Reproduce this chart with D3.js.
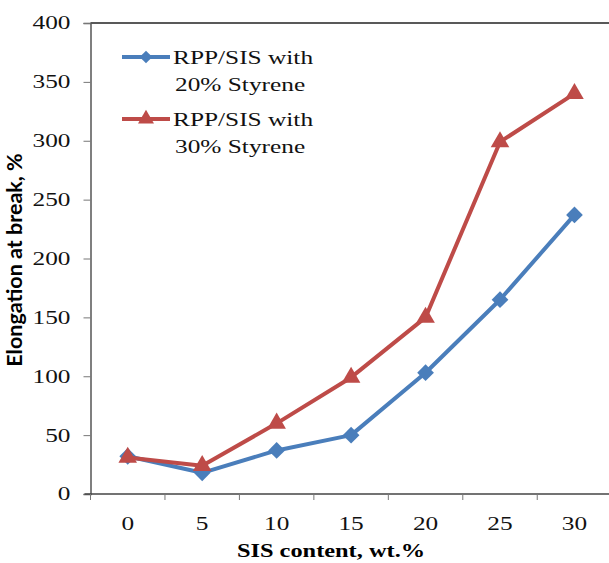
<!DOCTYPE html>
<html lang="en">
<head>
  <meta charset="UTF-8">
  <title>Elongation at break</title>
  <style>
    body { margin: 0; background: #fff; }
  </style>
</head>
<body>
  <svg id="chart" width="609" height="563"></svg>

  <script src="https://d3js.org/d3.v7.min.js"></script>
  <script>
    // SIS content categories (wt.%)
    const categories = ['0', '5', '10', '15', '20', '25', '30']
    // Elongation at break, %
    const styrene20 = [32, 18, 37, 50, 103, 165, 237]
    const styrene30 = [31, 24, 60, 99, 150, 299, 340]
    const yTicks = [0, 50, 100, 150, 200, 250, 300, 350, 400]
    const seriesNames = [['RPP/SIS with', '20% Styrene'], ['RPP/SIS with', '30% Styrene']]

    const blue = '#4a7ebb'
    const red = '#be4b48'
    const serif = '"Liberation Serif", "Times New Roman", "DejaVu Serif", serif'
    // the original picture is stretched sideways, so the text is too
    const sx = 1.37

    const svg = d3.select('#chart')
    const plotLeft = 90.5, plotRight = 611.7, plotTop = 23, plotBottom = 494

    const xscale = d3.scaleBand()
      .domain(categories)
      .range([plotLeft, plotRight])
      .padding(0)

    const yscale = d3.scaleLinear()
      .domain([0, 400])
      .range([plotBottom, plotTop])

    const cx = d => xscale(d) + xscale.bandwidth() / 2

    // top border of plot box
    svg.append('line')
      .attr('x1', plotLeft).attr('x2', 609)
      .attr('y1', plotTop).attr('y2', plotTop)
      .attr('stroke', '#222').attr('stroke-width', 1.5)

    // y axis
    const leftAxis = d3.axisLeft(yscale)
      .tickValues(yTicks)
      .tickSize(7)
      .tickPadding(12)
    const gy = svg.append('g')
      .attr('transform', `translate(${plotLeft}, 0)`)
      .call(leftAxis)
    gy.select('.domain').attr('stroke', '#555').attr('stroke-width', 1.5)
    gy.selectAll('.tick line').attr('stroke', '#777')
    gy.selectAll('.tick text')
      .style('font-family', serif)
      .attr('font-size', 18.5).attr('fill', '#111')
      .attr('x', -20 / sx)
      .attr('transform', `scale(${sx}, 1)`)

    // x axis: ticks between categories
    const gx = svg.append('g')
      .attr('transform', `translate(0, ${plotBottom})`)
    gx.append('line')
      .attr('x1', plotLeft - 6).attr('x2', 609)
      .attr('stroke', '#444').attr('stroke-width', 1.5)
    gx.selectAll('.xtick')
      .data(categories)
      .enter()
      .append('line')
      .attr('x1', d => xscale(d)).attr('x2', d => xscale(d))
      .attr('y1', 0).attr('y2', 6)
      .attr('stroke', '#777')
    gx.selectAll('.xlabel')
      .data(categories)
      .enter()
      .append('text')
      .attr('transform', d => `translate(${cx(d)}, 36) scale(${sx}, 1)`)
      .attr('text-anchor', 'middle')
      .style('font-family', serif)
      .attr('font-size', 18.5).attr('fill', '#111')
      .text(d => d)

    // axis titles
    svg.append('text')
      .attr('transform', `translate(331, 557) scale(1.25, 1)`)
      .attr('text-anchor', 'middle')
      .style('font-family', serif)
      .attr('font-weight', 'bold')
      .attr('font-size', 19.5)
      .text('SIS content, wt.%')

    svg.append('text')
      .attr('transform', 'translate(22, 260) rotate(-90)')
      .attr('text-anchor', 'middle')
      .style('font-family', 'Lato, "Open Sans", sans-serif')
      .attr('font-weight', 'bold')
      .attr('font-size', 21.5)
      .text('Elongation at break, %')

    const line = d3.line()
      .x((d, i) => cx(categories[i]))
      .y(d => yscale(d))

    // series 1 (diamonds)
    svg.append('path')
      .datum(styrene20)
      .attr('d', line)
      .attr('fill', 'none')
      .attr('stroke', blue).attr('stroke-width', 4)
      .attr('stroke-linejoin', 'round')
    svg.selectAll('.diamond')
      .data(styrene20)
      .enter()
      .append('path')
      .attr('d', d3.symbol(d3.symbolSquare, 140))
      .attr('transform', (d, i) => `translate(${cx(categories[i])}, ${yscale(d)}) rotate(45)`)
      .attr('fill', blue)

    // series 2 (triangles)
    svg.append('path')
      .datum(styrene30)
      .attr('d', line)
      .attr('fill', 'none')
      .attr('stroke', red).attr('stroke-width', 4)
      .attr('stroke-linejoin', 'round')
    svg.selectAll('.tri')
      .data(styrene30)
      .enter()
      .append('path')
      .attr('d', d3.symbol(d3.symbolTriangle, 150))
      .attr('transform', (d, i) => `translate(${cx(categories[i])}, ${yscale(d)})`)
      .attr('fill', red)

    // legend
    const legend = svg.append('g')
    const legendRows = [
      { y: 57, color: blue, symbol: d3.symbolSquare, rot: 45, size: 80, name: seriesNames[0] },
      { y: 119, color: red, symbol: d3.symbolTriangle, rot: 0, size: 110, name: seriesNames[1] }
    ]
    legendRows.forEach(r => {
      legend.append('line')
        .attr('x1', 122).attr('x2', 170)
        .attr('y1', r.y).attr('y2', r.y)
        .attr('stroke', r.color).attr('stroke-width', 4)
      legend.append('path')
        .attr('d', d3.symbol(r.symbol, r.size))
        .attr('transform', `translate(146, ${r.y}) rotate(${r.rot})`)
        .attr('fill', r.color)
      legend.append('text')
        .attr('transform', `translate(173, ${r.y + 7}) scale(${sx}, 1)`)
        .style('font-family', serif)
        .attr('font-size', 18.5).attr('fill', '#111')
        .text(r.name[0])
      legend.append('text')
        .attr('transform', `translate(175, ${r.y + 34}) scale(${sx}, 1)`)
        .style('font-family', serif)
        .attr('font-size', 18.5).attr('fill', '#111')
        .text(r.name[1])
    })
  </script>
</body>
</html>
